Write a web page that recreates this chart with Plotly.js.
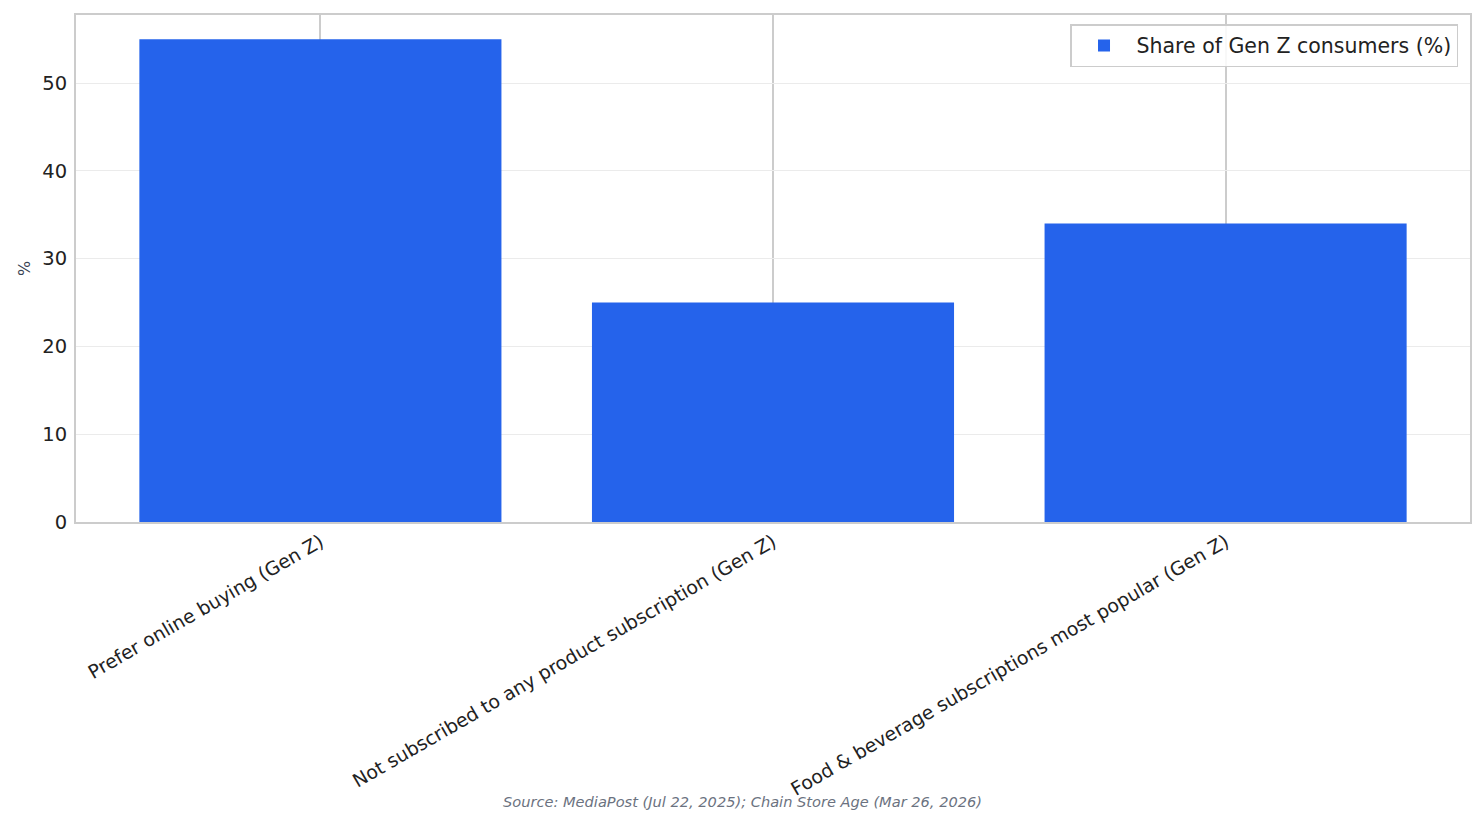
<!DOCTYPE html>
<html>
<head>
<meta charset="utf-8">
<script src="https://cdn.plot.ly/plotly-3.0.1.min.js"></script>
<style>
  html, body { margin: 0; padding: 0; background: #fff; }
  #chart { width: 1484px; height: 824px; }
</style>
</head>
<body>
<div id="chart"></div>
<script>
const categories = [
  'Prefer online buying (Gen Z)',
  'Not subscribed to any product subscription (Gen Z)',
  'Food & beverage subscriptions most popular (Gen Z)'
];
const shareValues = [55, 25, 34];
const yTicks = [0, 10, 20, 30, 40, 50];
const seriesName = 'Share of Gen Z consumers (%)';
const sourceNote = 'Source: MediaPost (Jul 22, 2025); Chain Store Age (Mar 26, 2026)';

const font = 'DejaVu Sans, sans-serif';

const trace = {
  type: 'bar',
  x: categories,
  y: shareValues,
  name: seriesName,
  width: 0.8,
  marker: { color: '#2563eb', line: { width: 0 } },
  showlegend: true,
  hoverinfo: 'x+y'
};

const layout = {
  width: 1484,
  height: 824,
  margin: { l: 76, r: 14, t: 15, b: 302 },
  paper_bgcolor: '#ffffff',
  plot_bgcolor: '#ffffff',
  font: { family: font, color: '#222222' },
  showlegend: true,
  xaxis: {
    type: 'category',
    range: [-0.54, 2.54],
    tickangle: -30,
    tickfont: { size: 18.9, color: '#222222' },
    showgrid: true,
    gridcolor: '#cccccc',
    gridwidth: 1.5,
    showline: true,
    linecolor: '#cccccc',
    linewidth: 2,
    mirror: true,
    ticks: '',
    zeroline: false
  },
  yaxis: {
    range: [0, 57.75],
    tickvals: yTicks,
    tickfont: { size: 19.5, color: '#222222' },
    ticklabelstandoff: 3,
    showgrid: true,
    gridcolor: '#ebebeb',
    gridwidth: 1,
    showline: true,
    linecolor: '#cccccc',
    linewidth: 2,
    mirror: true,
    ticks: '',
    zeroline: false,
    title: { text: '%', font: { size: 16, color: '#374151' }, standoff: 8 }
  },
  legend: {
    x: 0.9914,
    y: 0.982,
    xanchor: 'right',
    yanchor: 'top',
    bgcolor: 'rgba(255,255,255,0.85)',
    bordercolor: '#cccccc',
    borderwidth: 1.5,
    itemwidth: 55,
    font: { size: 20.5, color: '#222222' }
  },
  annotations: [{
    text: '<i>' + sourceNote + '</i>',
    xref: 'paper',
    yref: 'paper',
    x: 0.478,
    y: -0.552,
    xanchor: 'center',
    yanchor: 'middle',
    showarrow: false,
    font: { size: 14.6, color: '#6b7280', family: font }
  }]
};

Plotly.newPlot('chart', [trace], layout, { displayModeBar: false, responsive: false });
</script>
</body>
</html>
